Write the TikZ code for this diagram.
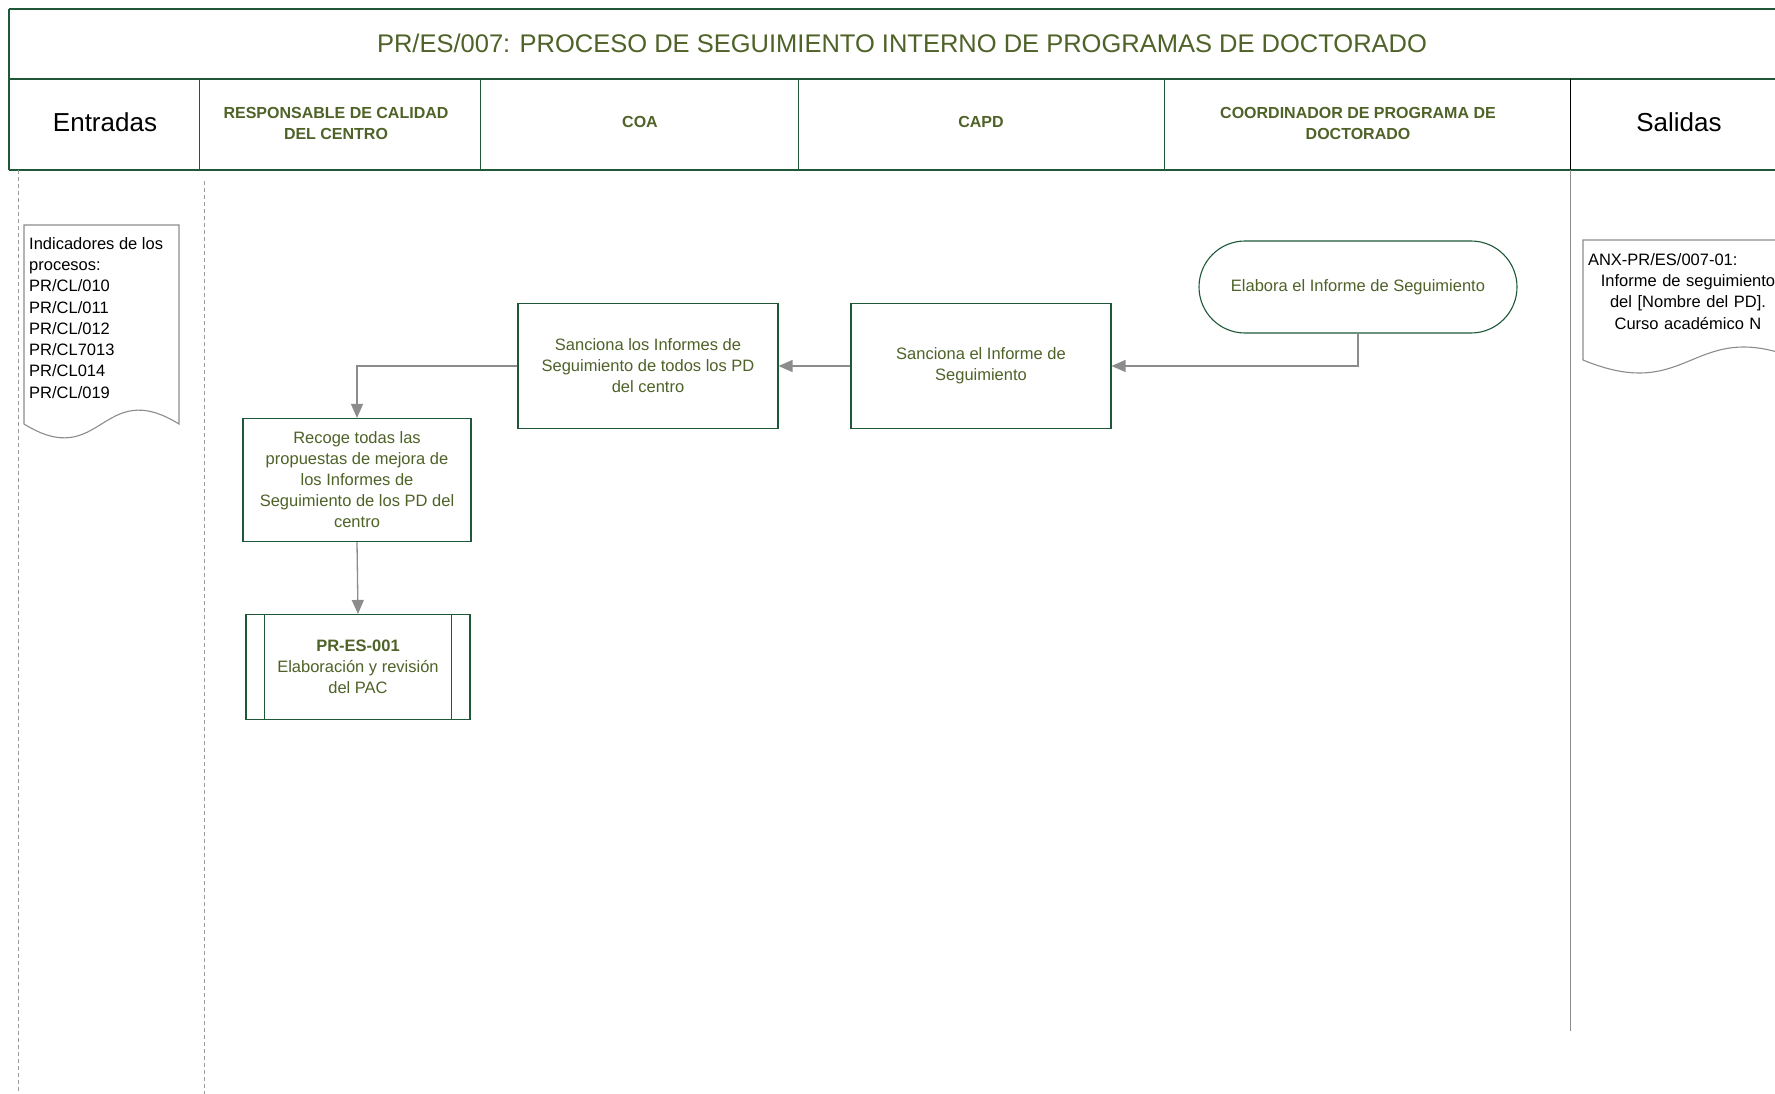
\documentclass[tikz,border=0pt]{standalone}
\usepackage{fontspec}
\setmainfont{Liberation Sans}
\usetikzlibrary{arrows.meta}
\definecolor{olivetxt}{RGB}{79,98,40}
\definecolor{framegreen}{RGB}{30,88,56}
\definecolor{conngray}{RGB}{140,140,140}
\definecolor{dashgray}{RGB}{155,155,155}
\tikzset{
  boxtext/.style={font=\fontsize{16.5}{21}\selectfont, text=olivetxt, align=center},
  procbox/.style={draw=framegreen, line width=1.1pt, fill=white, boxtext, inner sep=2pt},
  headtext/.style={font=\fontsize{16}{21}\selectfont\bfseries, text=olivetxt, align=center},
  bigtext/.style={font=\fontsize{26}{30}\selectfont, text=black},
  frameline/.style={draw=framegreen, line width=1.4pt},
  divline/.style={draw=framegreen, line width=0.9pt},
  connector/.style={draw=conngray, line width=1.3pt, -{Triangle[length=14pt,width=12pt]}, fill=none},
  dashline/.style={draw=dashgray, line width=1pt, dash pattern=on 4pt off 3pt},
  docline/.style={draw=conngray, line width=1.1pt, fill=white},
  doctext/.style={font=\fontsize{16.5}{21.3}\selectfont, text=black, inner sep=0pt}
}
\begin{document}
\begin{tikzpicture}[x=1pt,y=-1pt]
\useasboundingbox (0,0) rectangle (1775,1094);
\clip (0,0) rectangle (1775,1094);
\fill[white] (0,0) rectangle (1775,1094);

% frame
\path[frameline] (9,9) -- (1785,9);
\path[frameline] (9,9) -- (9,170);
\path[frameline] (9,79) -- (1785,79);
\path[frameline] (9,170) -- (1785,170);
\path[divline] (199,79) -- (199,170);
\path[divline] (480,79) -- (480,170);
\path[divline] (798,79) -- (798,170);
\path[divline] (1164,79) -- (1164,170);
\draw[black, line width=1pt] (1570,79) -- (1570,170);

% title and headers
\node[font=\fontsize{25.5}{30}\selectfont, text=olivetxt] (title) at (902,43) {PR/ES/007: PROCESO DE SEGUIMIENTO INTERNO DE PROGRAMAS DE DOCTORADO};
\node[bigtext] (hentradas) at (105,122) {Entradas};
\node[headtext] (hresp) at (336,123) {RESPONSABLE DE CALIDAD\\DEL CENTRO};
\node[headtext] (hcoa) at (640,122) {COA};
\node[headtext] (hcapd) at (981,122) {CAPD};
\node[headtext] (hcoord) at (1358,123) {COORDINADOR DE PROGRAMA DE\\DOCTORADO};
\node[bigtext] (hsalidas) at (1679,122) {Salidas};

% lane separators
\path[dashline] (18,170) -- (18,1094);
\path[dashline] (204,181) -- (204,1094);
\draw[conngray, line width=1pt] (1570,170) -- (1570,1031);

% input document
\path[docline] (24,225) -- (179,225) -- (179,424) .. controls (101.5,376) and (101.5,472) .. (24,424) -- cycle;
\node[doctext, anchor=north west, align=left] (indic) at (29,237) {Indicadores de los\\procesos:\\PR/CL/010\\PR/CL/011\\PR/CL/012\\PR/CL7013\\PR/CL014\\PR/CL/019};

% output document
\path[docline] (1583,240) -- (1800,240) -- (1800,360) .. controls (1691.5,315) and (1691.5,405) .. (1583,360) -- cycle;
\node[doctext, anchor=north, text width=200pt, align=center] (anx) at (1688,253) {\makebox[200pt][l]{ANX-PR/ES/007-01:}\\Informe de seguimiento\\del [Nombre del PD].\\Curso académico N};

% process nodes
\node[procbox, rounded corners=46pt, minimum width=318pt, minimum height=92pt] (elab) at (1358,287) {Elabora el Informe de Seguimiento};
\node[procbox, minimum width=260pt, minimum height=125pt] (capd) at (981,366) {Sanciona el Informe de\\Seguimiento};
\node[procbox, minimum width=260pt, minimum height=125pt] (coa) at (648,366) {Sanciona los Informes de\\Seguimiento de todos los PD\\del centro};
\node[procbox, minimum width=228pt, minimum height=123pt] (recoge) at (357,480) {Recoge todas las\\propuestas de mejora de\\los Informes de\\Seguimiento de los PD del\\centro};
\node[procbox, minimum width=224pt, minimum height=105pt] (pac) at (358,667) {\textbf{PR-ES-001}\\Elaboración y revisión\\del PAC};
\draw[framegreen, line width=1.1pt] ([xshift=19pt]pac.north west) -- ([xshift=19pt]pac.south west);
\draw[framegreen, line width=1.1pt] ([xshift=-19pt]pac.north east) -- ([xshift=-19pt]pac.south east);

% connectors
\path[connector] (elab.south) |- (capd.east);
\path[connector] (capd.west) -- (coa.east);
\path[connector] (coa.west) -| (recoge.north);
\path[connector] (recoge.south) -- (pac.north);
\end{tikzpicture}
\end{document}
